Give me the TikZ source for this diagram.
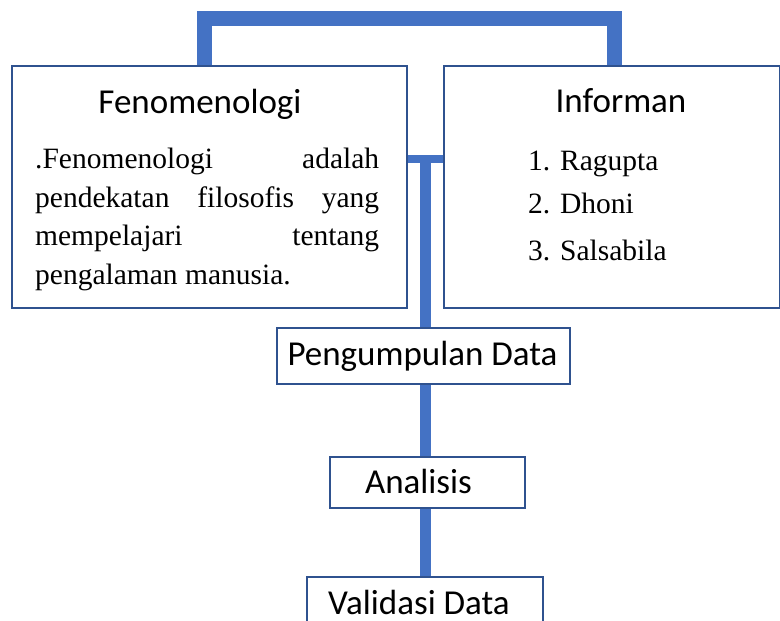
\documentclass[tikz,border=0pt]{standalone}
\usepackage{fontspec}
\setmainfont{Liberation Serif}
\newfontfamily\calibrifont{Carlito}
\definecolor{bordc}{HTML}{2F528F}
\definecolor{barc}{HTML}{4472C4}
\begin{document}
\begin{tikzpicture}[x=1pt,y=-1pt,
  box/.style={draw=bordc,line width=2pt,fill=white,inner sep=0pt,anchor=north west},
  bar/.style={draw=barc,line cap=butt,line join=miter},
  head/.style={font=\calibrifont\fontsize{35}{42}\selectfont,inner sep=0pt,anchor=base},
  body/.style={font=\fontsize{29.5}{38.5}\selectfont,inner sep=0pt}]
\useasboundingbox (0,0) rectangle (780,621);
% boxes
\node[box,minimum width=395pt,minimum height=242pt] (fen) at (10.5,64.5) {};
\node[box,minimum width=336pt,minimum height=242pt] (inf) at (443,64.5) {};
\node[box,minimum width=293pt,minimum height=56pt] (peng) at (276,327) {};
\node[box,minimum width=195pt,minimum height=51pt] (ana) at (329,456) {};
\node[box,minimum width=236pt,minimum height=70pt] (val) at (306,576) {};
% connectors
\coordinate (brL) at (204,18.5);
\coordinate (brR) at (614,18.5);
\coordinate (j) at (425.5,159);
\draw[bar,line width=15pt] (fen.north -| brL) -- (brL) -- (brR) -- (inf.north -| brR);
\draw[bar,line width=8pt] (fen.east |- j) -- (inf.west |- j);
\draw[bar,line width=11pt] ([yshift=-4pt]j) -- (j |- peng.north);
\draw[bar,line width=11pt] (peng.south -| j) -- (ana.north -| j);
\draw[bar,line width=11pt] (ana.south -| j) -- (val.north -| j);
% texts
\node[head] (fenh) at (200,113) {Fenomenologi};
\node[body,anchor=north west,align=left] (fent) at (35,148) {%
\hbox to 344pt{.Fenomenologi\hfill adalah}\\
\hbox to 344pt{pendekatan\hfill filosofis\hfill yang}\\
\hbox to 344pt{mempelajari\hfill tentang}\\
\hbox to 344pt{pengalaman manusia.\hfill}};
\node[head] (infh) at (621,112) {Informan};
\node[body,anchor=base west] (i1) at (528,170) {1. Ragupta};
\node[body,anchor=base west] (i2) at (528,213) {2. Dhoni};
\node[body,anchor=base west] (i3) at (528,260) {3. Salsabila};
\node[head] (pengt) at (422.5,365) {Pengumpulan Data};
\node[head] (anat) at (418.5,493) {Analisis};
\node[head] (valt) at (419,614) {Validasi Data};
\end{tikzpicture}
\end{document}
